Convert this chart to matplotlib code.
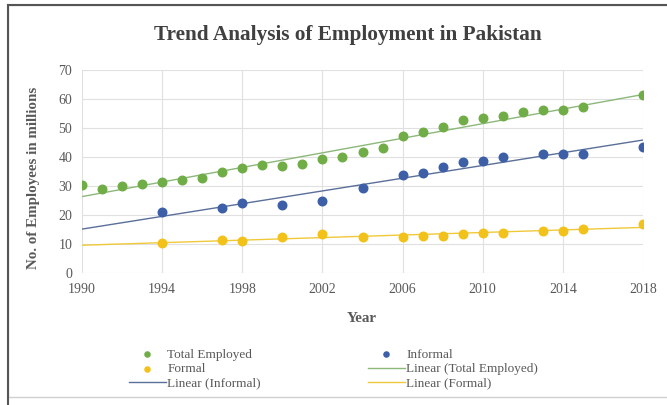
import numpy as np
import matplotlib.pyplot as plt
from matplotlib.patches import Rectangle

# employment figures, millions
total_years = [1990, 1991, 1992, 1993, 1994, 1995, 1996, 1997, 1998, 1999, 2000,
               2001, 2002, 2003, 2004, 2005, 2006, 2007, 2008, 2009, 2010, 2011,
               2012, 2013, 2014, 2015, 2018]
total_employed = [30.4, 28.9, 29.9, 30.8, 31.4, 31.9, 32.7, 34.7, 36.2, 37.2, 36.9,
                  37.6, 39.3, 40.0, 41.8, 43.0, 47.2, 48.5, 50.2, 52.8, 53.3, 54.1,
                  55.5, 56.2, 56.2, 57.2, 61.4]

split_years = [1994, 1997, 1998, 2000, 2002, 2004, 2006, 2007, 2008, 2009, 2010,
               2011, 2013, 2014, 2015, 2018]
informal = [21.2, 22.4, 24.3, 23.5, 24.8, 29.2, 33.9, 34.6, 36.4, 38.4, 38.6,
            39.9, 41.0, 41.1, 41.1, 43.6]
formal = [10.2, 11.5, 11.2, 12.3, 13.6, 12.4, 12.4, 12.9, 12.9, 13.4, 13.8,
          13.8, 14.6, 14.6, 15.2, 16.9]

GREEN = '#70AD47'
BLUE = '#3D5FA8'
YELLOW = '#F2C21B'
GREY_TXT = '#595959'
SERIF = 'Liberation Serif'

fig = plt.figure(figsize=(6.67, 4.05), dpi=100)
ax = fig.add_axes([82/667, 1 - 273/405, 561/667, 203/405])

# outer frame
fig.patches.append(Rectangle((8/667, 8/405), 1.0, 1 - 13/405, transform=fig.transFigure,
                             fill=False, edgecolor='#d0d0d0', lw=1.0))
fig.add_artist(plt.Line2D([8/667, 8/667], [0, 1 - 5/405], transform=fig.transFigure,
                          color='#555555', lw=1.5))
fig.add_artist(plt.Line2D([8/667, 1], [1 - 5/405, 1 - 5/405], transform=fig.transFigure,
                          color='#555555', lw=1.5))

def trend(x, y):
    k, b = np.polyfit(x, y, 1)
    xs = np.array([1990, 2018])
    return xs, k * xs + b

h_tot = ax.scatter(total_years, total_employed, s=38, color=GREEN, zorder=3, label='Total Employed')
h_inf = ax.scatter(split_years, informal, s=38, color=BLUE, zorder=3, label='Informal')
h_for = ax.scatter(split_years, formal, s=38, color=YELLOW, zorder=3, label='Formal')

xs, ys = trend(total_years, total_employed)
l_tot, = ax.plot(xs, ys, color='#8cb87a', lw=1.0, label='Linear (Total Employed)')
xs, ys = trend(split_years, informal)
l_inf, = ax.plot(xs, ys, color='#5a6f99', lw=1.0, label='Linear (Informal)')
xs, ys = trend(split_years, formal)
l_for, = ax.plot(xs, ys, color='#f0c93a', lw=1.0, label='Linear (Formal)')

ax.set_xlim(1990, 2018)
ax.set_ylim(0, 70)
ax.set_xticks(range(1990, 2019, 4))
ax.set_yticks(range(0, 71, 10))
ax.grid(True, color='#e0e0e0', lw=0.8)
ax.set_axisbelow(True)
for s in ax.spines.values():
    s.set_visible(False)
ax.tick_params(length=0, labelsize=10, labelcolor=GREY_TXT, pad=7)
for t in ax.get_xticklabels() + ax.get_yticklabels():
    t.set_family(SERIF)

fig.text(0.522, 1 - 35/405, 'Trend Analysis of Employment in Pakistan', ha='center', va='center',
         family=SERIF, weight='bold', fontsize=15.3, color='#404040')
fig.text(34/667, 1 - 178/405, 'No. of Employees in millions', rotation=90, ha='center', va='center',
         family=SERIF, weight='bold', fontsize=10.8, color=GREY_TXT)
fig.text(362/667, 1 - 318/405, 'Year', ha='center', va='center',
         family=SERIF, weight='bold', fontsize=10.8, color=GREY_TXT)

handles = [h_tot, h_for, l_inf, h_inf, l_tot, l_for]
fig.legend(handles=handles, labels=[h.get_label() for h in handles], ncol=2,
           loc='center left', bbox_to_anchor=(129/667, 1 - 369/405), frameon=False,
           prop={'family': SERIF, 'size': 9.5}, labelcolor=GREY_TXT,
           handlelength=2.8, handletextpad=0.1, columnspacing=8.1, labelspacing=0.15,
           markerscale=0.6, borderpad=0, borderaxespad=0)

fig.savefig('out.png', dpi=100)
